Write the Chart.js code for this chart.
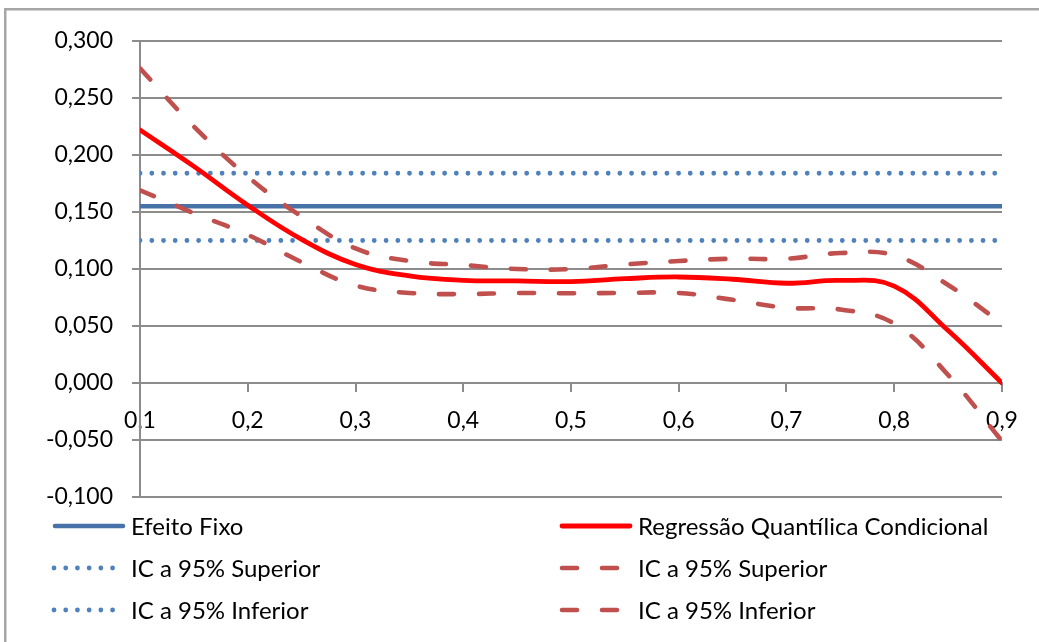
<!DOCTYPE html>
<html><head><meta charset="utf-8">
<script src="https://cdn.jsdelivr.net/npm/chart.js@4.4.1/dist/chart.umd.min.js"></script>
<style>html,body{margin:0;padding:0;background:#fff;}#wrap{position:relative;width:1039px;height:642px;}</style>
</head><body><div id="wrap"><canvas id="c" width="1039" height="642"></canvas></div>
<script>
// Quantis (x)
const quantis = [0.1,0.15,0.2,0.25,0.3,0.35,0.4,0.45,0.5,0.55,0.6,0.65,0.7,0.75,0.8,0.85,0.9];
const xTicks = [0.1,0.2,0.3,0.4,0.5,0.6,0.7,0.8,0.9];
// Efeito fixo (constante) e IC
const fixoX = [0.1, 0.9];
const efeitoFixo = [0.155, 0.155];
const fixoICSup = [0.184, 0.184];
const fixoICInf = [0.125, 0.125];
// Regressão quantílica condicional
const regQuant = [0.222,0.190,0.156,0.126,0.104,0.094,0.090,0.0895,0.089,0.0915,0.093,0.091,0.0875,0.090,0.085,0.046,0.000];
const regICSup = [0.276,0.225,0.181,0.146,0.118,0.107,0.1035,0.100,0.100,0.104,0.107,0.109,0.109,0.114,0.112,0.086,0.052];
const regICInf = [0.169,0.149,0.130,0.106,0.0855,0.079,0.078,0.079,0.0787,0.079,0.079,0.073,0.066,0.0645,0.052,0.007,-0.051];
const labels = ['Efeito Fixo','IC a 95% Superior','IC a 95% Inferior','Regressão Quantílica Condicional','IC a 95% Superior','IC a 95% Inferior'];

const pts = (xs, ys) => xs.map((x, i) => ({x, y: ys[i]}));
const FONT = 'Lato';
const FS = 23;
const LFS = 24;
const BLUE = '#4672A8', BLUE_DOT = '#4F81BD', RED = '#FF0000', RED_DASH = '#C0504D', GRID = '#8C8C8C';

const frame = {
  id: 'frame',
  beforeDraw(chart) {
    const ctx = chart.ctx;
    ctx.save();
    ctx.fillStyle = '#fff';
    ctx.fillRect(0, 0, chart.width, chart.height);
    ctx.fillStyle = '#A6A6A6';
    ctx.fillRect(4, 8, 2.5, chart.height);
    ctx.fillRect(4, 8, chart.width, 2.5);
    ctx.restore();
  }
};

const legendGrid = {
  id: 'legendGrid',
  afterDraw(chart) {
    const ctx = chart.ctx;
    const items = [
      {i: 0, x1: 55, x2: 123, tx: 131, y: 526},
      {i: 1, x1: 54, x2: 116, tx: 131, y: 568},
      {i: 2, x1: 54, x2: 116, tx: 131, y: 610},
      {i: 3, x1: 562, x2: 630, tx: 638, y: 526},
      {i: 4, x1: 562, x2: 622, tx: 638, y: 568},
      {i: 5, x1: 562, x2: 622, tx: 638, y: 610}
    ];
    ctx.save();
    items.forEach(it => {
      const ds = chart.data.datasets[it.i];
      ctx.beginPath();
      ctx.strokeStyle = ds.borderColor;
      ctx.lineWidth = ds.borderWidth;
      ctx.lineCap = 'round';
      ctx.setLineDash(ds.borderDash || []);
      ctx.moveTo(it.x1, it.y);
      ctx.lineTo(it.x2, it.y);
      ctx.stroke();
      ctx.setLineDash([]);
      ctx.fillStyle = '#000';
      ctx.font = LFS + 'px ' + FONT;
      ctx.textBaseline = 'middle';
      ctx.textAlign = 'left';
      ctx.fillText(ds.label, it.tx, it.y + 1);
    });
    ctx.restore();
  }
};

const mk = (label, data, color, width, dash, order) => ({
  label, data, borderColor: color, backgroundColor: color, borderWidth: width,
  borderDash: dash, borderCapStyle: 'round', pointRadius: 0, pointHoverRadius: 0,
  tension: 0.4, fill: false, order
});

new Chart(document.getElementById('c'), {
  type: 'line',
  data: {
    datasets: [
      mk(labels[0], pts(fixoX, efeitoFixo), BLUE, 4.5, [], 6),
      mk(labels[1], pts(fixoX, fixoICSup), BLUE_DOT, 4.8, [0.01, 11.7], 5),
      mk(labels[2], pts(fixoX, fixoICInf), BLUE_DOT, 4.8, [0.01, 11.7], 4),
      mk(labels[3], pts(quantis, regQuant), RED, 4.8, [], 3),
      mk(labels[4], pts(quantis, regICSup), RED_DASH, 4.6, [15, 25], 2),
      mk(labels[5], pts(quantis, regICInf), RED_DASH, 4.6, [15, 25], 1)
    ]
  },
  options: {
    responsive: false,
    animation: false,
    events: [],
    layout: {padding: {left: 0, top: 41, right: 37, bottom: 145}},
    plugins: {legend: {display: false}, tooltip: {enabled: false}, title: {display: false}},
    scales: {
      x: {
        type: 'linear',
        position: {y: 0},
        min: 0.1, max: 0.9,
        afterBuildTicks: s => { s.ticks = xTicks.map(v => ({value: v})); },
        ticks: {
          font: {family: FONT, size: FS}, color: '#000', padding: 16, maxRotation: 0, autoSkip: false,
          callback: v => v.toFixed(1).replace('.', ',')
        },
        grid: {drawOnChartArea: false, drawTicks: true, tickLength: 8, color: GRID, lineWidth: 2},
        border: {display: true, color: GRID, width: 2}
      },
      y: {
        type: 'linear',
        min: -0.1, max: 0.3,
        afterFit: s => { s.width = 140; },
        ticks: {
          stepSize: 0.05, font: {family: FONT, size: FS}, color: '#000', padding: 19,
          callback: v => v.toFixed(3).replace('.', ',')
        },
        grid: {color: GRID, lineWidth: 2, tickLength: 8, drawTicks: true},
        border: {display: true, color: GRID, width: 2}
      }
    }
  },
  plugins: [frame, legendGrid]
});
</script>
</body></html>
